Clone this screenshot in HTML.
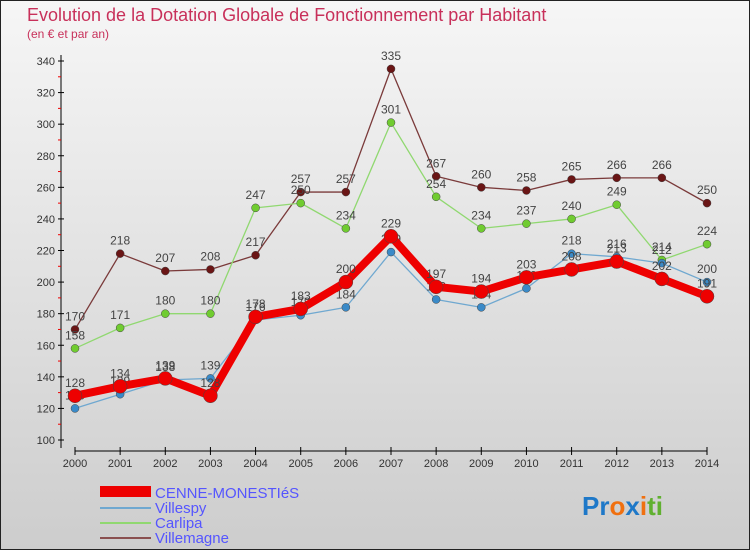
<!DOCTYPE html>
<html><head><meta charset="utf-8"><style>
body{margin:0;width:750px;height:550px;overflow:hidden}
svg{display:block;font-family:"Liberation Sans",sans-serif}
</style></head><body>
<svg id="c" width="750" height="550">
<defs><linearGradient id="bg" x1="0" y1="0" x2="0" y2="1"><stop offset="0" stop-color="#f6f6f6"/><stop offset="1" stop-color="#cdcdcd"/></linearGradient></defs>
<rect x="0.5" y="0.5" width="749" height="549" fill="url(#bg)" stroke="#222"/>
<text x="27" y="21" font-size="18" fill="#c8305a">Evolution de la Dotation Globale de Fonctionnement par Habitant</text>
<text x="27" y="38" font-size="12" fill="#c8305a">(en € et par an)</text>
<g id="grid"></g><g id="axes"></g><g id="series"></g>
<g>
<rect x="100" y="486" width="51" height="11" fill="#e00"/>
<text x="155" y="498" font-size="15" fill="#5555ff">CENNE-MONESTIéS</text>
<line x1="100" x2="151" y1="508" y2="508" stroke="#6fa8d0" stroke-width="2"/>
<text x="155" y="513" font-size="15" fill="#5555ff">Villespy</text>
<line x1="100" x2="151" y1="523" y2="523" stroke="#90d870" stroke-width="2"/>
<text x="155" y="528" font-size="15" fill="#5555ff">Carlipa</text>
<line x1="100" x2="151" y1="538" y2="538" stroke="#8a5050" stroke-width="2"/>
<text x="155" y="543" font-size="15" fill="#5555ff">Villemagne</text>
</g>
<g font-size="26" font-weight="bold">
<text x="582" y="515"><tspan fill="#1e78c8">Pr</tspan><tspan fill="#f07010">o</tspan><tspan fill="#1e78c8">x</tspan><tspan fill="#f07010">i</tspan><tspan fill="#60b030">ti</tspan></text>
</g>
</svg>
<script>
const years=[2000,2001,2002,2003,2004,2005,2006,2007,2008,2009,2010,2011,2012,2013,2014];
const yTicks=[100,120,140,160,180,200,220,240,260,280,300,320,340];
const cenne=[128,134,139,128,178,183,200,229,197,194,203,208,213,202,191];
const villespy=[120,129,138,139,176,179,184,219,189,184,196,218,216,212,200];
const carlipa=[158,171,180,180,247,250,234,301,254,234,237,240,249,214,224];
const villemagne=[170,218,207,208,217,257,257,335,267,260,258,265,266,266,250];
const NS="http://www.w3.org/2000/svg";
function X(i){return 75+i*(632/14);}
function Y(v){return 440-(v-100)*(379/240);}
function mk(t,a,p){const e=document.createElementNS(NS,t);for(const k in a)e.setAttribute(k,a[k]);p.appendChild(e);return e;}
const axes=document.getElementById('axes'),grid=document.getElementById('grid'),ser=document.getElementById('series');
const ya=mk('line',{x1:61,x2:61,y1:55,y2:448,stroke:'#000','stroke-width':1},axes);


const xa=mk('line',{x1:75,x2:707,y1:451,y2:451,stroke:'#000','stroke-width':1},axes);


yTicks.forEach((v,i)=>{
  mk('line',{x1:58,x2:64,y1:Y(v),y2:Y(v),stroke:'#000'},axes);
  if(i<yTicks.length-1) mk('line',{x1:58,x2:61,y1:Y(v+10),y2:Y(v+10),stroke:'#e00'},axes);
  const t=mk('text',{x:55,y:Y(v)+4,'font-size':11,'text-anchor':'end',fill:'#333'},axes);
  t.textContent=v;
  
  
});
years.forEach((y,i)=>{
  mk('line',{x1:X(i),x2:X(i),y1:447,y2:455,stroke:'#000'},axes);
  const t=mk('text',{x:X(i),y:467,'font-size':11,'text-anchor':'middle',fill:'#333'},axes);
  t.textContent=y;
  
  
});
function series(vals,name,col,dot,w,r){
  const g=mk('g',{},ser);
  
  
  const pl=mk('polyline',{points:vals.map((v,i)=>X(i)+','+Y(v)).join(' '),fill:'none',stroke:col,'stroke-width':w,'stroke-linejoin':'round'},g);
  
  
  vals.forEach((v,i)=>{
    const c=mk('circle',{cx:X(i),cy:Y(v),r:r,fill:dot,stroke:'#444','stroke-width':0.5},g);
    
    
    const t=mk('text',{x:X(i),y:Y(v)-9,'font-size':12,'text-anchor':'middle',fill:'#444'},g);
    t.textContent=v;
    
    
  });
}
series(villemagne,'villemagne','#7a3a3a','#6a1515',1.3,4);
series(carlipa,'carlipa','#90d870','#70cc30',1.3,4);
series(villespy,'villespy','#6fa8d0','#3a8ac8',1.3,4);
series(cenne,'cenne','#ee0000','#ee0000',8,7);
</script>
</body></html>
